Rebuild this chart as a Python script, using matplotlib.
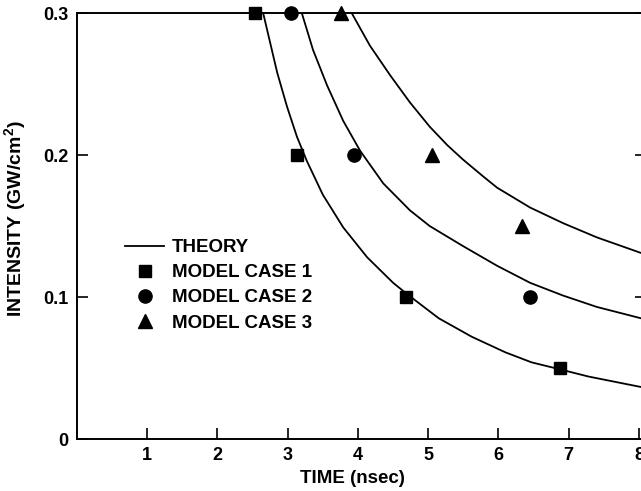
import numpy as np
import matplotlib
matplotlib.use("Agg")
import matplotlib.pyplot as plt
from matplotlib.lines import Line2D

plt.rcParams['font.family'] = ['Liberation Sans', 'DejaVu Sans']
plt.rcParams['font.weight'] = 'bold'
plt.rcParams['mathtext.fontset'] = 'custom'
plt.rcParams['mathtext.rm'] = 'Liberation Sans:bold'
plt.rcParams['mathtext.bf'] = 'Liberation Sans:bold'

case1_t = [2.54, 3.13, 4.68, 6.88]
case1_i = [0.30, 0.20, 0.10, 0.05]
case2_t = [3.05, 3.94, 6.45]
case2_i = [0.30, 0.20, 0.10]
case3_t = [3.76, 5.05, 6.33]
case3_i = [0.30, 0.20, 0.15]

# theory curves
th1_t = [2.65, 2.75, 2.85, 2.99, 3.13, 3.27, 3.50, 3.79, 4.13, 4.50, 4.70, 5.15,
         5.62, 6.10, 6.47, 6.88, 7.28, 7.99, 8.2]
th1_i = [0.300, 0.279, 0.258, 0.234, 0.213, 0.196, 0.172, 0.149, 0.128, 0.110, 0.102, 0.085,
         0.072, 0.061, 0.054, 0.049, 0.044, 0.037, 0.035]
th2_t = [3.20, 3.36, 3.56, 3.79, 4.03, 4.36, 4.74, 5.02, 5.49, 5.98, 6.45, 6.92,
         7.40, 8.03, 8.2]
th2_i = [0.300, 0.274, 0.249, 0.224, 0.203, 0.180, 0.161, 0.150, 0.136, 0.122, 0.110, 0.101,
         0.093, 0.085, 0.083]
th3_t = [3.91, 4.17, 4.46, 4.74, 5.02, 5.27, 5.49, 5.78, 5.98, 6.45, 6.92, 7.40, 8.03, 8.2]
th3_i = [0.300, 0.277, 0.256, 0.237, 0.220, 0.207, 0.197, 0.185, 0.177, 0.163, 0.152, 0.142,
         0.131, 0.129]

x_ticks = [1, 2, 3, 4, 5, 6, 7, 8]
y_ticks = [0, 0.1, 0.2, 0.3]
y_tick_labels = ['0', '0.1', '0.2', '0.3']

W, H = 641, 491
fig = plt.figure(figsize=(W / 100, H / 100), dpi=100)
x0, x1 = 77, 646
y0, y1 = 439, 13
ax = fig.add_axes([x0 / W, (H - y0) / H, (x1 - x0) / W, (y0 - y1) / H])

for t, i in [(th1_t, th1_i), (th2_t, th2_i), (th3_t, th3_i)]:
    ax.plot(t, i, color='black', lw=1.3)

ax.plot(case1_t, case1_i, 's', color='black', ms=9, clip_on=False, zorder=5)
ax.plot(case2_t, case2_i, 'o', color='black', ms=9.5, clip_on=False, zorder=5)
ax.plot(case3_t, case3_i, '^', color='black', ms=10, clip_on=False, zorder=5)

ax.set_xlim(0, 8.1)
ax.set_ylim(0, 0.3)
ax.set_xticks(x_ticks)
ax.set_xticklabels([str(v) for v in x_ticks])
ax.set_yticks(y_ticks)
ax.set_yticklabels(y_tick_labels)
ax.tick_params(direction='in', length=8, width=1.2, labelsize=13, pad=6)
ax.tick_params(axis='y', right=True)
for s in ax.spines.values():
    s.set_linewidth(1.4)

ax.set_xlabel('TIME (nsec)', fontsize=13.5, fontweight='bold')
ax.xaxis.set_label_coords((352 - x0) / (x1 - x0), -(470 - y0) / (y0 - y1))
ax.set_ylabel(r'INTENSITY (GW/cm$^{\mathbf{2}}$)', fontsize=14, fontweight='bold')
ax.yaxis.set_label_coords(-(x0 - 29) / (x1 - x0), (y0 - 219) / (y0 - y1))

handles = [
    Line2D([], [], color='black', lw=1.3),
    Line2D([], [], marker='s', ls='', color='black', ms=9),
    Line2D([], [], marker='o', ls='', color='black', ms=9.5),
    Line2D([], [], marker='^', ls='', color='black', ms=10),
]
labels = ['THEORY', 'MODEL CASE 1', 'MODEL CASE 2', 'MODEL CASE 3']
ax.legend(handles, labels, loc='upper left',
          bbox_to_anchor=((125 - x0) / (x1 - x0), (y0 - 239) / (y0 - y1)),
          frameon=False, fontsize=13.5, handlelength=2.1, handletextpad=0.4,
          labelspacing=0.43, borderaxespad=0, borderpad=0)

fig.savefig('out.png', dpi=100)
